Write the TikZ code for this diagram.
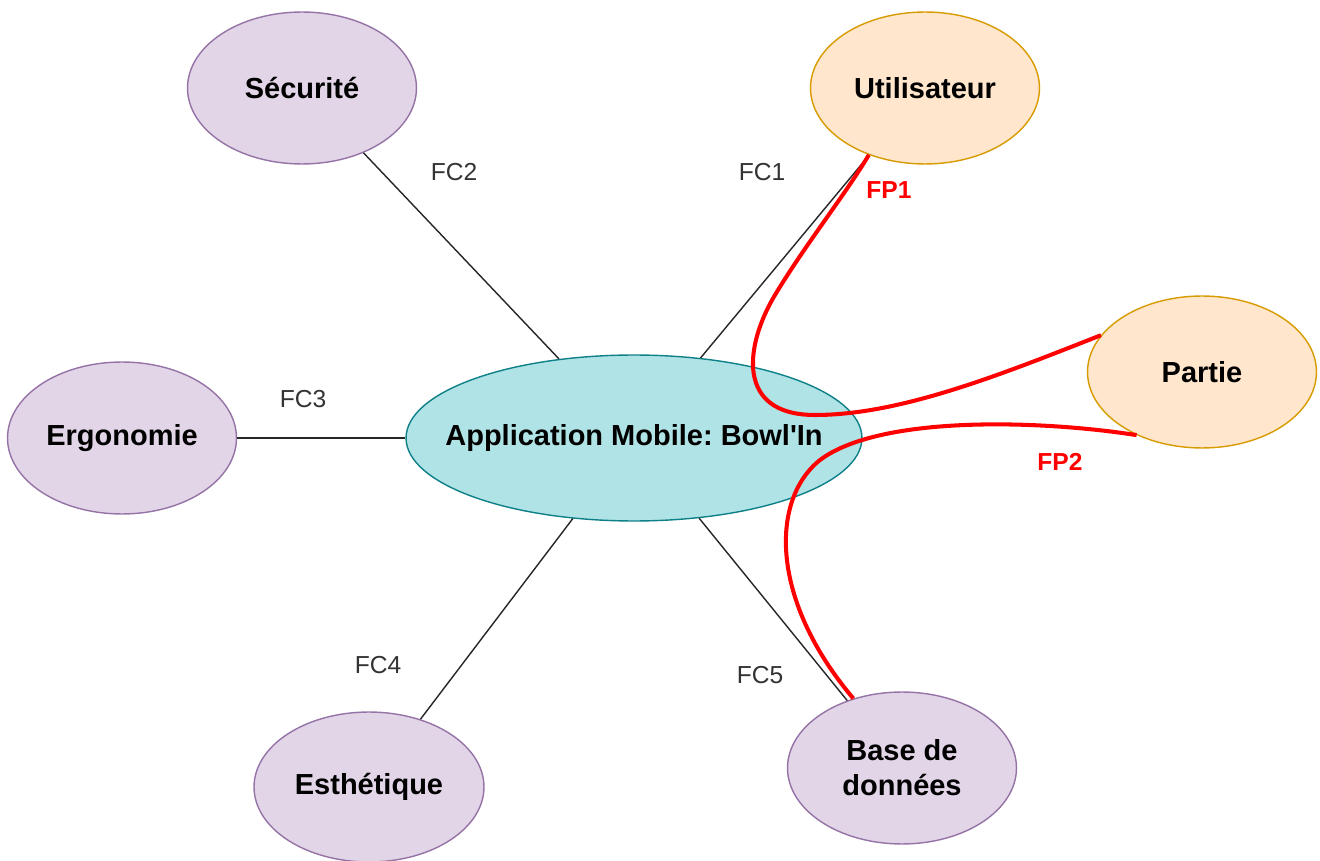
\documentclass[tikz,border=0pt]{standalone}
\usepackage{fontspec}
\setmainfont{Liberation Sans}
\usetikzlibrary{shapes.geometric}

\definecolor{lilacfill}{HTML}{E1D5E7}
\definecolor{lilacline}{HTML}{9673A6}
\definecolor{peachfill}{HTML}{FFE6CC}
\definecolor{peachline}{HTML}{D79B00}
\definecolor{tealfill}{HTML}{B0E3E6}
\definecolor{tealline}{HTML}{0E8088}
\definecolor{fcgray}{HTML}{333333}

\tikzset{
  bubble/.style={ellipse, draw, line width=0.8pt, inner sep=0pt,
    minimum width=4.58cm, minimum height=3.04cm, align=center,
    font=\fontsize{16.5}{20}\selectfont\bfseries},
  constraint/.style={bubble, fill=lilacfill, draw=lilacline},
  actor/.style={bubble, fill=peachfill, draw=peachline},
  core/.style={bubble, fill=tealfill, draw=tealline,
    minimum width=9.12cm, minimum height=3.32cm},
  caption/.style={inner sep=0pt, font=\fontsize{16.5}{20}\selectfont\bfseries},
  fcline/.style={draw=black!85, line width=0.8pt},
  fcname/.style={text=fcgray, font=\fontsize{14}{16}\selectfont},
  fpline/.style={draw=red, line width=2.3pt},
  fpname/.style={text=red, font=\fontsize{14}{16}\selectfont\bfseries}
}

\begin{document}
\frenchspacing
\begin{tikzpicture}[x=0.02cm, y=-0.02cm]
  \useasboundingbox (0,0) rectangle (1320,861);

  % functions: the app and its surroundings
  \node[core]       (app)    at (634,438) {};
  \node[caption]    (apptext) at (app) {Application Mobile: Bowl\textquotesingle In};
  \node[constraint] (secu)   at (302,88)  {Sécurité};
  \node[actor]      (util)   at (925,88)  {Utilisateur};
  \node[actor]      (partie) at (1202,372) {Partie};
  \node[constraint] (ergo)   at (122,438) {Ergonomie};
  \node[constraint, minimum width=4.6cm, minimum height=3.0cm]
                    (esth)   at (369,787) {Esthétique};
  \node[constraint] (base)   at (902,768) {Base de\\données};

  % constraint functions
  \draw[fcline] (secu) -- (app);
  \draw[fcline] (util) -- (app);
  \draw[fcline] (ergo) -- (app);
  \draw[fcline] (esth) -- (app);
  \draw[fcline] (base) -- (app);

  \node[fcname] (fc1) at (762,172) {FC1};
  \node[fcname] (fc2) at (454,172) {FC2};
  \node[fcname] (fc3) at (303,399) {FC3};
  \node[fcname] (fc4) at (378,665) {FC4};
  \node[fcname] (fc5) at (760,675) {FC5};

  % principal functions
  \draw[fpline] (util.230)
      .. controls (845,195) and (805,245) .. (775,295)
      .. controls (745,345) and (735,415) .. (815,415)
      .. controls (900,415) and (1000,375) .. (partie.160);
  \draw[fpline] (partie.224)
      .. controls (1040,420) and (880,415) .. (820,460)
      .. controls (770,500) and (770,600) .. (base.125);

  \node[fpname] (fp1) at (889,190) {FP1};
  \node[fpname] (fp2) at (1060,462) {FP2};
\end{tikzpicture}
\end{document}
